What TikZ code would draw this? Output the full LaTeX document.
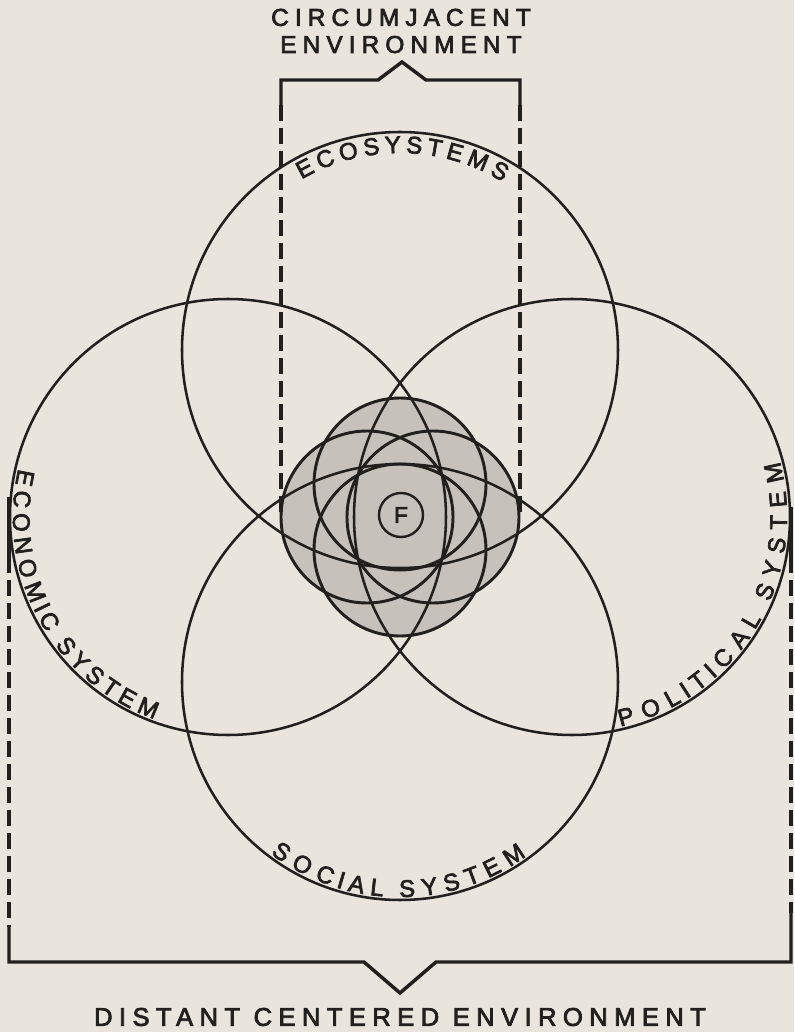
\documentclass[tikz,border=0pt]{standalone}
\usepackage{fontspec}
\usetikzlibrary{decorations.text}
\setsansfont{Liberation Sans}
\newfontfamily\titlefont[LetterSpace=25,FakeBold=3]{Liberation Sans}
\newfontfamily\ringfont[FakeBold=3]{Liberation Sans}
\definecolor{paper}{RGB}{233,229,221}
\definecolor{ink}{RGB}{34,32,30}
\definecolor{screen}{RGB}{198,194,187}

\begin{document}
\begin{tikzpicture}[x=0.75pt, y=0.75pt,
  ring/.style={draw=ink, line width=1.9pt},
  inner ring/.style={draw=ink, line width=2.2pt},
  frame/.style={draw=ink, line width=2.6pt},
  dashframe/.style={draw=ink, line width=2.6pt, dash pattern=on 12pt off 5.25pt},
  curved label/.style={font=\fontsize{18}{19}\ringfont, decorate,
    decoration={text effects along path, text={#1},
      text effects/.cd, text along path, fit text to path,
      characters={text=ink, font=\fontsize{18}{19}\ringfont}}}]
  % paper and page size
  \fill[paper] (-400,-515) rectangle (394,517);
  \useasboundingbox (-400,-515) rectangle (394,517);

  % centres of the four systems
  \coordinate (O) at (0,0);
  \coordinate (eco) at (0,167);
  \coordinate (soc) at (0,-165);
  \coordinate (econ) at (-172,0);
  \coordinate (pol) at (172,0);

  % shaded core
  \fill[screen] (90:33) circle[radius=86] (180:33) circle[radius=86]
                (270:33) circle[radius=86] (0:33) circle[radius=86];
  \foreach \a in {0,90,180,270}
    \draw[inner ring] (\a:33) circle[radius=86];

  % the four systems
  \foreach \c in {eco,soc,econ,pol}
    \draw[ring] (\c) circle[radius=218];

  \node[draw=ink, circle, line width=1.8pt, minimum size=33pt, inner sep=0pt,
        font=\fontsize{17}{17}\ringfont, text=ink] (F) at (1,2) {F};

  % circumjacent environment
  \draw[dashframe] (-119,412) -- (-119,0);
  \draw[dashframe] (120,412) -- (120,0);
  \draw[frame] (-119,412) -- (-119,437) -- (-22,437) -- (2,455) -- (26,437)
               -- (120,437) -- (120,412);
  \node[font=\fontsize{18.3}{20.3}\titlefont, text=ink, align=center]
    (circum) at (1,486) {CIRCUMJACENT\\ENVIRONMENT};

  % distant centered environment
  \draw[frame] (-391,20) -- (-391,-40);
  \draw[frame] (391,10) -- (391,-40);
  \draw[dashframe] (-391,-40) -- (-391,-410);
  \draw[dashframe] (391,-40) -- (391,-396);
  \draw[frame] (-391,-410) -- (-391,-445) -- (-36,-445) -- (0,-476) -- (36,-445)
               -- (391,-445) -- (391,-396);
  \node[font=\fontsize{19.2}{20}\titlefont, text=ink]
    (distant) at (0,-500) {DISTANT CENTERED ENVIRONMENT};

  % names along the rings
  \path[curved label=ECOSYSTEMS] (eco) ++(120:197) arc[start angle=120, end angle=58.5, radius=197];
  \path[curved label={ECONOMIC SYSTEM}] (econ) ++(167:215) arc[start angle=167, end angle=250, radius=215];
  \path[curved label={SOCIAL SYSTEM}] (soc) ++(233:215) arc[start angle=233, end angle=306, radius=215];
  \path[curved label={POLITICAL SYSTEM}] (pol) ++(283:215) arc[start angle=283, end angle=375, radius=215];
\end{tikzpicture}
\end{document}
